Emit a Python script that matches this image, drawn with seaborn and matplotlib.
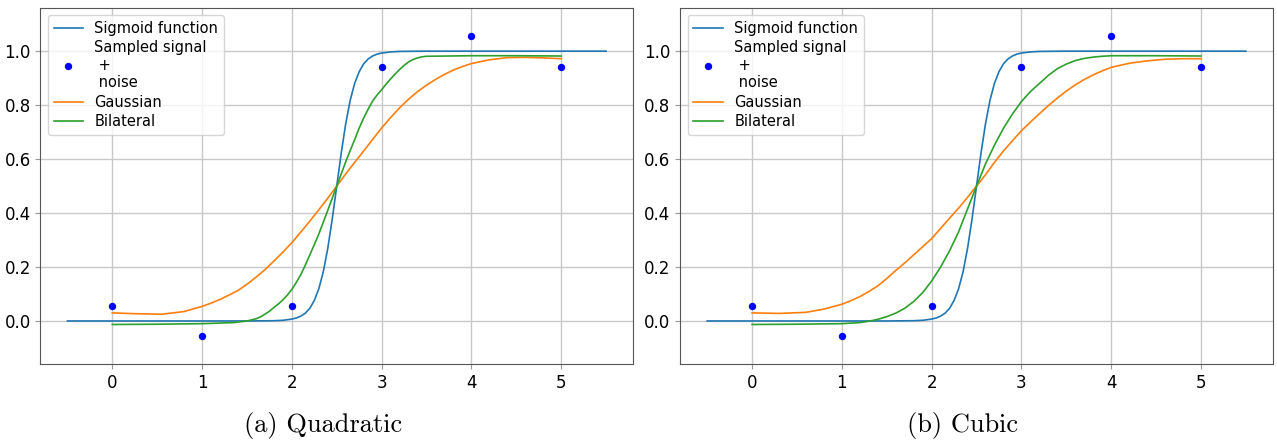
import numpy as np
import pandas as pd
import matplotlib
matplotlib.use('Agg')
import matplotlib.pyplot as plt
import seaborn as sns

# sigmoid (same in both panels)
sig_x = [-0.5, 1.5, 1.8, 1.9, 2.0, 2.05, 2.1, 2.15, 2.2, 2.25, 2.3, 2.35, 2.4, 2.45, 2.5,
         2.55, 2.6, 2.65, 2.7, 2.75, 2.8, 2.85, 2.9, 2.95, 3.0, 3.1, 3.2, 3.5, 5.5]
sig_y = [0.0, 0.0, 0.001, 0.0025, 0.007, 0.011, 0.018, 0.029, 0.047, 0.076, 0.119, 0.182, 0.269, 0.378, 0.5,
         0.622, 0.731, 0.818, 0.881, 0.924, 0.953, 0.971, 0.982, 0.989, 0.993, 0.997, 0.999, 1.0, 1.0]

# sampled signal + noise
pts_x = [0, 1, 2, 3, 4, 5]
pts_y = [0.057, -0.057, 0.057, 0.943, 1.057, 0.943]

# (a) quadratic
quad_gauss_x = [0, 0.25, 0.55, 0.8, 1.0, 1.1, 1.2, 1.3, 1.4, 1.5, 1.6, 1.7, 1.8, 1.9, 2.0, 2.1, 2.2, 2.3,
                2.4, 2.5, 2.6, 2.7, 2.8, 2.9, 3.0, 3.1, 3.2, 3.3, 3.4, 3.5, 3.6, 3.7, 3.8, 3.9, 4.0,
                4.2, 4.4, 4.6, 4.8, 5.0]
quad_gauss_y = [0.030, 0.027, 0.025, 0.035, 0.054, 0.066, 0.080, 0.096, 0.113, 0.136, 0.162, 0.190, 0.222, 0.255,
                0.290, 0.330, 0.370, 0.412, 0.455, 0.500, 0.545, 0.588, 0.630, 0.673, 0.715, 0.754, 0.790, 0.822,
                0.850, 0.874, 0.895, 0.914, 0.930, 0.943, 0.954, 0.968, 0.976, 0.977, 0.975, 0.972]
quad_bilat_x = [0, 0.5, 1.0, 1.35, 1.5, 1.6, 1.65, 1.7, 1.75, 1.8, 1.85, 1.9, 1.95, 2.0, 2.05, 2.1, 2.15,
                2.2, 2.25, 2.3, 2.35, 2.4, 2.45, 2.5, 2.55, 2.6, 2.65, 2.7, 2.75, 2.8, 2.85, 2.9, 2.95, 3.0,
                3.05, 3.1, 3.15, 3.2, 3.25, 3.3, 3.35, 3.4, 3.45, 3.5, 4.0, 4.5, 5.0]
quad_bilat_y = [-0.013, -0.012, -0.010, -0.006, 0.000, 0.008, 0.015, 0.025, 0.036, 0.050, 0.063, 0.078, 0.096,
                0.117, 0.143, 0.172, 0.207, 0.245, 0.283, 0.322, 0.366, 0.410, 0.455, 0.500, 0.545, 0.590, 0.632,
                0.672, 0.715, 0.752, 0.785, 0.815, 0.838, 0.857, 0.878, 0.897, 0.915, 0.932, 0.947, 0.960, 0.969,
                0.975, 0.979, 0.981, 0.983, 0.983, 0.982]

# (b) cubic
cub_gauss_x = [0, 0.3, 0.6, 0.8, 1.0, 1.1, 1.2, 1.3, 1.4, 1.5, 1.6, 1.7, 1.8, 1.9, 2.0, 2.1, 2.2, 2.3,
               2.4, 2.5, 2.6, 2.7, 2.8, 2.9, 3.0, 3.1, 3.2, 3.3, 3.4, 3.5, 3.6, 3.7, 3.8, 3.9, 4.0,
               4.2, 4.4, 4.6, 4.8, 5.0]
cub_gauss_y = [0.030, 0.028, 0.032, 0.044, 0.062, 0.075, 0.090, 0.109, 0.130, 0.157, 0.187, 0.215, 0.245, 0.275,
               0.305, 0.343, 0.381, 0.418, 0.458, 0.500, 0.542, 0.588, 0.630, 0.668, 0.705, 0.737, 0.768, 0.798,
               0.826, 0.852, 0.875, 0.895, 0.912, 0.927, 0.940, 0.955, 0.964, 0.970, 0.972, 0.972]
cub_bilat_x = [0, 0.5, 1.0, 1.2, 1.3, 1.4, 1.5, 1.6, 1.7, 1.8, 1.9, 2.0, 2.1, 2.2, 2.3, 2.4, 2.5,
               2.6, 2.7, 2.8, 2.9, 3.0, 3.1, 3.2, 3.3, 3.4, 3.5, 3.6, 3.7, 3.8, 3.9, 4.0, 4.5, 5.0]
cub_bilat_y = [-0.013, -0.012, -0.010, -0.006, -0.001, 0.006, 0.016, 0.029, 0.047, 0.072, 0.105, 0.148, 0.200,
               0.260, 0.330, 0.415, 0.500, 0.582, 0.652, 0.714, 0.767, 0.813, 0.850, 0.880, 0.910, 0.935, 0.952,
               0.965, 0.973, 0.978, 0.981, 0.983, 0.983, 0.982]

panels = [
    ('(a) Quadratic', quad_gauss_x, quad_gauss_y, quad_bilat_x, quad_bilat_y),
    ('(b) Cubic', cub_gauss_x, cub_gauss_y, cub_bilat_x, cub_bilat_y),
]

plt.rcParams['axes.edgecolor'] = '#555555'
plt.rcParams['xtick.color'] = '#999999'
plt.rcParams['ytick.color'] = '#999999'
plt.rcParams['xtick.labelcolor'] = 'black'
plt.rcParams['ytick.labelcolor'] = 'black'

fig = plt.figure(figsize=(12.77, 4.43), dpi=100)
lefts = [0.0317, 0.5327]

for (caption, gx, gy, bx, by), left in zip(panels, lefts):
    ax = fig.add_axes([left, 0.178, 0.464, 0.804])
    sns.lineplot(x=sig_x, y=sig_y, ax=ax, color='C0', lw=1.2, sort=False, label='Sigmoid function')
    ax.plot(pts_x, pts_y, 'o', color='b', ms=4.3, label='Sampled signal\n +\n noise')
    sns.lineplot(x=gx, y=gy, ax=ax, color='C1', lw=1.2, sort=False, label='Gaussian')
    sns.lineplot(x=bx, y=by, ax=ax, color='C2', lw=1.2, sort=False, label='Bilateral')
    ax.set_xlim(-0.8, 5.8)
    ax.set_ylim(-0.16, 1.16)
    ax.set_yticks([0.0, 0.2, 0.4, 0.6, 0.8, 1.0])
    ax.grid(True, color='#c8c8c8', lw=1.0)
    ax.tick_params(labelsize=12)
    ax.legend(loc='upper left', fontsize=10.5, handlelength=2.0, labelspacing=0.3)
    fig.text(left + 0.221, 0.039, caption, ha='center', va='center',
             fontsize=19, family=['cmr10', 'DejaVu Serif'])

plt.savefig('out.png', dpi=100)
